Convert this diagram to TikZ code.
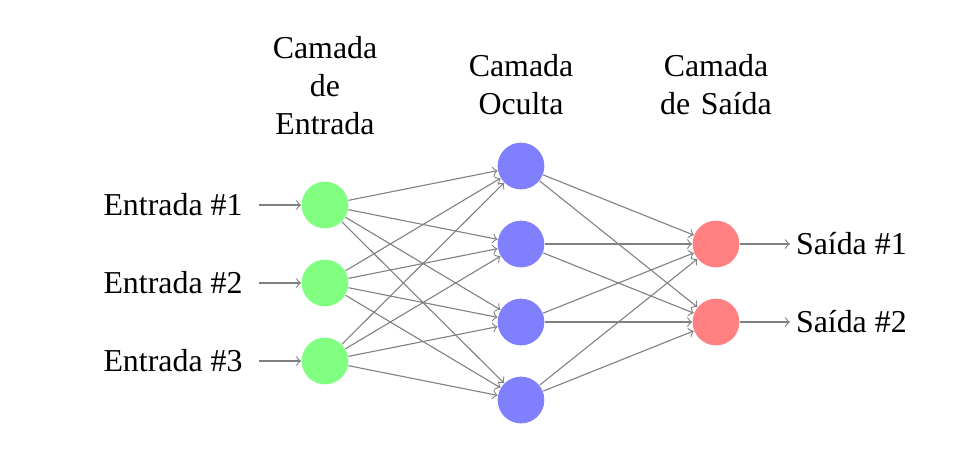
\documentclass[tikz,border=0pt]{standalone}
\usepackage{fontspec}
\setmainfont{Liberation Serif}
\begin{document}
\begin{tikzpicture}[x={(0.012788cm,0)}, y={(0,-0.012788cm)},
  txt/.style={font=\fontsize{11.6}{13.8}\selectfont, inner sep=0pt},
  neuron/.style={circle, fill=black!25, minimum size=17pt, inner sep=0pt},
  inneuron/.style={neuron, fill=green!50},
  hidneuron/.style={neuron, fill=blue!50},
  outneuron/.style={neuron, fill=red!50},
  conn/.style={->, draw=black!50},
  layerlabel/.style={txt, align=center, anchor=south}]
\useasboundingbox (0,0) rectangle (969,450);

% input neurons
\node[inneuron] (I-1) at (325,205) {};
\node[inneuron] (I-2) at (325,283) {};
\node[inneuron] (I-3) at (325,361) {};
% hidden neurons
\node[hidneuron] (H-1) at (521,166) {};
\node[hidneuron] (H-2) at (521,244) {};
\node[hidneuron] (H-3) at (521,322) {};
\node[hidneuron] (H-4) at (521,400) {};
% output neurons
\node[outneuron] (O-1) at (716,244) {};
\node[outneuron] (O-2) at (716,322) {};

% input arrows and labels
\foreach \i/\y in {1/205,2/283,3/361}{
  \coordinate (a\i) at (259,\y);
  \node[txt, anchor=east, inner xsep=5.8pt] (L\i) at (a\i) {Entrada \#\i};
  \draw[conn] (a\i) -- (I-\i);
}
% output arrows and labels
\foreach \i/\y in {1/244,2/322}{
  \coordinate (b\i) at (790,\y);
  \node[txt, anchor=west, inner xsep=2pt] (R\i) at (b\i) {Saída \#\i};
  \draw[conn] (O-\i) -- (b\i);
}

% connections
\foreach \s in {1,2,3}
  \foreach \d in {1,2,3,4}
    \draw[conn] (I-\s) -- (H-\d);
\foreach \s in {1,2,3,4}
  \foreach \d in {1,2}
    \draw[conn] (H-\s) -- (O-\d);

% layer labels
\node[layerlabel] (TI) at (325,135) {Camada\\de\\Entrada};
\node[layerlabel] (TH) at (521,115) {Camada\\Oculta};
\node[layerlabel] (TO) at (716,115) {Camada\\de\hspace{1pt} Saída};
\end{tikzpicture}
\end{document}
